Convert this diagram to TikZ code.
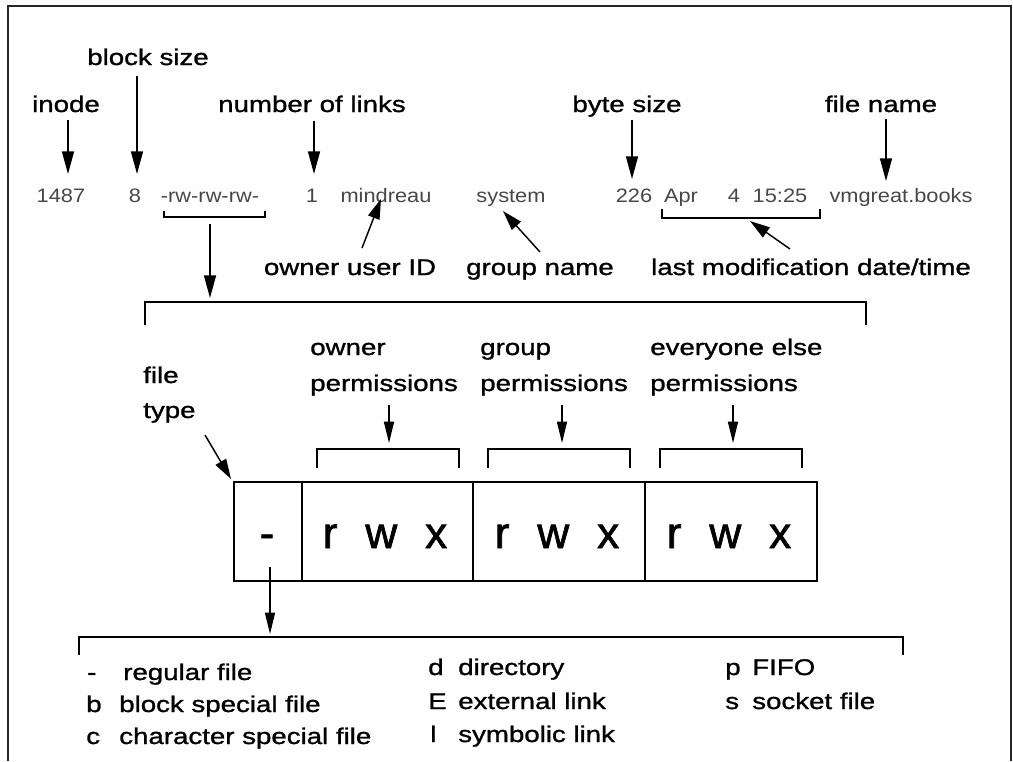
\documentclass[tikz,border=0pt]{standalone}
\usepackage{fontspec}
\setmainfont{Liberation Sans}
\newfontfamily\lblfont[FakeStretch=1.22,FakeBold=1.2]{Liberation Sans}
\newfontfamily\datfont[FakeStretch=1.12]{Liberation Sans}
\newfontfamily\bigfont[FakeBold=1.6]{Liberation Sans}
\usetikzlibrary{arrows.meta}

\begin{document}
\begin{tikzpicture}[x=0.75pt,y=-0.75pt,
  lbl/.style={font=\lblfont\fontsize{17}{20}\selectfont, inner sep=0pt},
  dat/.style={font=\datfont\fontsize{14.6}{17}\selectfont, text=black!72, inner sep=0pt, anchor=base},
  leg/.style={font=\lblfont\fontsize{17}{20}\selectfont, inner sep=0pt, anchor=base west},
  big/.style={font=\bigfont\fontsize{33}{36}\selectfont, inner sep=0pt, anchor=base},
  cell/.style={draw, line width=1.1pt, inner sep=0pt, minimum height=74.25pt},
  arr/.style={-{Triangle[length=17pt,width=9pt]}, line width=1.1pt},
  darr/.style={-{Triangle[length=15pt,width=9pt]}, line width=1.1pt},
  parr/.style={-{Triangle[length=16pt,width=7.5pt]}, line width=1.1pt},
  brk/.style={line width=1.1pt},
]
\useasboundingbox (0,0) rectangle (1013,761);

% outer frame, open at the bottom
\draw[line width=1.5pt, black!85] (8,761) -- (8,6) -- (1011,6) -- (1011,761);

% field labels above the listing
\node[lbl, anchor=base] (blocksize) at (148,65) {block size};
\node[lbl, anchor=base] (inode) at (66,112) {inode};
\node[lbl, anchor=base] (nlinks) at (312,112) {number of links};
\node[lbl, anchor=base] (bytesize) at (627,112) {byte size};
\node[lbl, anchor=base] (filename) at (881,112) {file name};

% the listing line
\node[dat] (d-inode) at (61,202) {1487};
\node[dat] (d-blk) at (135,202) {8};
\node[dat] (d-mode) at (210,202) {-rw-rw-rw-};
\node[dat] (d-links) at (312,202) {1};
\node[dat] (d-owner) at (386,202) {mindreau};
\node[dat] (d-group) at (511,202) {system};
\node[dat] (d-size) at (634,202) {226};
\node[dat] (d-month) at (681,202) {Apr};
\node[dat] (d-day) at (734,202) {4};
\node[dat] (d-time) at (780,202) {15:25};
\node[dat] (d-name) at (901,202) {vmgreat.books};

% field labels below the listing
\node[lbl, anchor=base] (ownerid) at (350,275) {owner user ID};
\node[lbl, anchor=base] (groupname) at (540,275) {group name};
\node[lbl, anchor=base] (lastmod) at (811,275) {last modification date/time};

% arrows into the listing
\coordinate (a-inode-s) at (68,120);   \coordinate (a-inode-e) at (68,174);
\coordinate (a-blk-s) at (137,76);     \coordinate (a-blk-e) at (137,174);
\coordinate (a-links-s) at (314,121);  \coordinate (a-links-e) at (314,174);
\coordinate (a-size-s) at (632,120);   \coordinate (a-size-e) at (632,179);
\coordinate (a-name-s) at (886,119);   \coordinate (a-name-e) at (886,181);
\draw[arr] (a-inode-s) -- (a-inode-e);
\draw[arr] (a-blk-s) -- (a-blk-e);
\draw[arr] (a-links-s) -- (a-links-e);
\draw[arr] (a-size-s) -- (a-size-e);
\draw[arr] (a-name-s) -- (a-name-e);

\coordinate (a-own-s) at (362,248);  \coordinate (a-own-e) at (381,199);
\coordinate (a-grp-s) at (540,252);  \coordinate (a-grp-e) at (503,211);
\coordinate (a-mod-s) at (790,249);  \coordinate (a-mod-e) at (750,221);
\draw[darr] (a-own-s) -- (a-own-e);
\draw[darr] (a-grp-s) -- (a-grp-e);
\draw[darr] (a-mod-s) -- (a-mod-e);

% brackets under the mode string and the date
\draw[brk] (164,211) -- (164,217) -- (265,217) -- (265,211);
\draw[brk] (662,209) -- (662,218) -- (820,218) -- (820,209);
\coordinate (a-mode-s) at (210,224);  \coordinate (a-mode-e) at (210,298);
\draw[arr] (a-mode-s) -- (a-mode-e);

% bracket spanning the expanded mode field
\draw[brk] (145,325) -- (145,302) -- (866,302) -- (866,325);

% permission group labels
\node[lbl, anchor=base west] (ft1) at (143,383) {file};
\node[lbl, anchor=base west] (ft2) at (143,418) {type};
\node[lbl, anchor=base west] (op1) at (310,355) {owner};
\node[lbl, anchor=base west] (op2) at (310,391) {permissions};
\node[lbl, anchor=base west] (gp1) at (480,355) {group};
\node[lbl, anchor=base west] (gp2) at (480,391) {permissions};
\node[lbl, anchor=base west] (ep1) at (650,355) {everyone else};
\node[lbl, anchor=base west] (ep2) at (650,391) {permissions};

\coordinate (a-ft-s) at (205,435);   \coordinate (a-ft-e) at (231,479);
\draw[darr] (a-ft-s) -- (a-ft-e);
\coordinate (a-op-s) at (389,405);   \coordinate (a-op-e) at (389,443);
\coordinate (a-gp-s) at (562,405);   \coordinate (a-gp-e) at (562,443);
\coordinate (a-ep-s) at (733,405);   \coordinate (a-ep-e) at (733,443);
\draw[parr] (a-op-s) -- (a-op-e);
\draw[parr] (a-gp-s) -- (a-gp-e);
\draw[parr] (a-ep-s) -- (a-ep-e);

\draw[brk] (317,468) -- (317,449) -- (459,449) -- (459,468);
\draw[brk] (488,468) -- (488,449) -- (630,449) -- (630,468);
\draw[brk] (660,468) -- (660,449) -- (802,449) -- (802,468);

% the ten mode characters
\node[cell, minimum width=51pt] (c-type) at (268,531.5) {};
\node[cell, minimum width=128.25pt] (c-own) at (387.5,531.5) {};
\node[cell, minimum width=129pt] (c-grp) at (559,531.5) {};
\node[cell, minimum width=129pt] (c-oth) at (731,531.5) {};
\node[big] (t-type) at (267,548) {-};
\node[big] (t-own) at (385,548) {r\hspace{21pt}w\hspace{21pt}x};
\node[big] (t-grp) at (557,548) {r\hspace{21pt}w\hspace{21pt}x};
\node[big] (t-oth) at (729,548) {r\hspace{21pt}w\hspace{21pt}x};

% file type legend
\coordinate (a-type-s) at (270,567);  \coordinate (a-type-e) at (270,634);
\draw[parr] (a-type-s) -- (a-type-e);
\draw[brk] (79,655) -- (79,637) -- (903,637) -- (903,655);

\node[leg] (k1) at (87,680) {-};
\node[leg] (v1) at (123,680) {regular file};
\node[leg] (k2) at (86,712) {b};
\node[leg] (v2) at (119,712) {block special file};
\node[leg] (k3) at (86,744) {c};
\node[leg] (v3) at (119,744) {character special file};

\node[leg] (k4) at (428,675) {d};
\node[leg] (v4) at (458,675) {directory};
\node[leg] (k5) at (428,709) {E};
\node[leg] (v5) at (458,709) {external link};
\node[leg] (k6) at (430,742) {l};
\node[leg] (v6) at (458,742) {symbolic link};

\node[leg] (k7) at (725,675) {p};
\node[leg] (v7) at (752,675) {FIFO};
\node[leg] (k8) at (725,709) {s};
\node[leg] (v8) at (752,709) {socket file};
\end{tikzpicture}
\end{document}
